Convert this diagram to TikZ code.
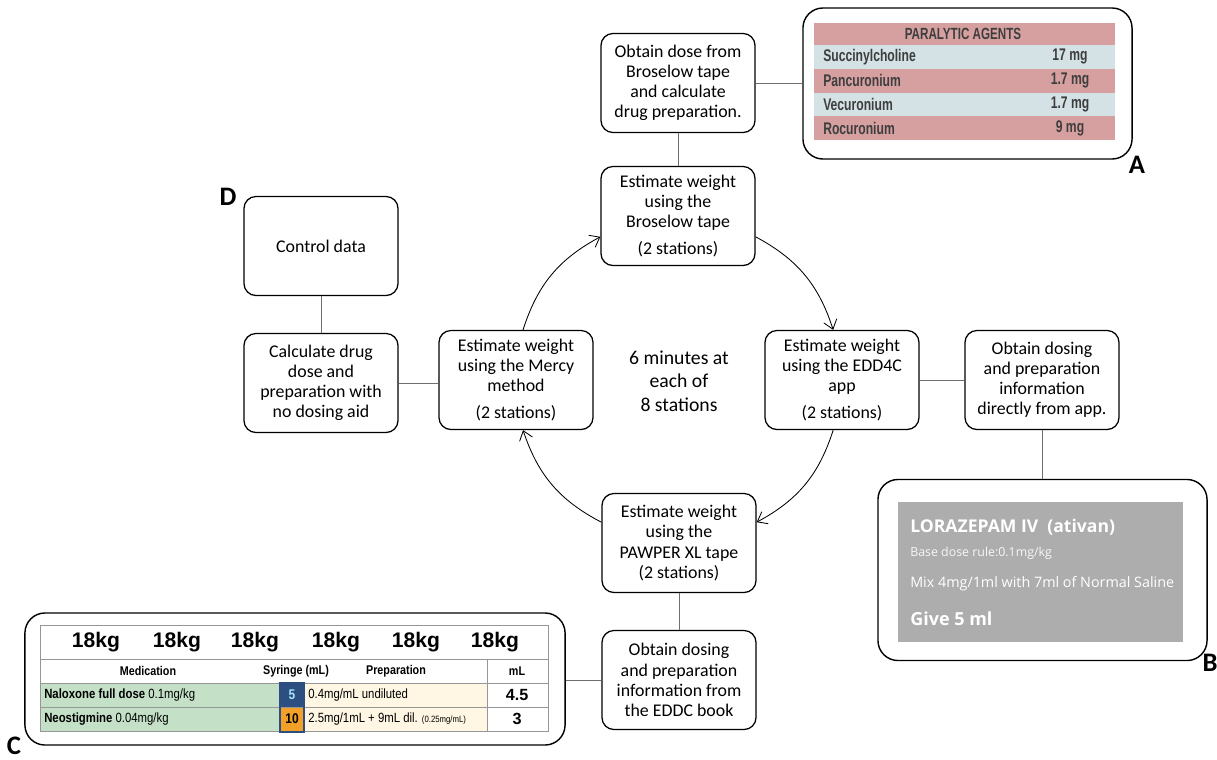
\documentclass[tikz,border=0pt]{standalone}
\usepackage{fontspec}
\setmainfont{Carlito}
\newfontfamily\tapefont[FakeStretch=0.72]{Liberation Sans}
\newfontfamily\bookfont[FakeStretch=0.85]{Liberation Sans}
\newfontfamily\plainsans{Liberation Sans}
\newfontfamily\appfont{Open Sans}
\usepackage{tikz}
\usetikzlibrary{arrows.meta}

\definecolor{tapepink}{RGB}{214,160,160}
\definecolor{tapeblue}{RGB}{212,226,229}
\definecolor{tapeink}{RGB}{62,62,62}
\definecolor{appgray}{RGB}{172,173,172}
\definecolor{bookgreen}{RGB}{196,225,200}
\definecolor{bookcream}{RGB}{255,247,228}
\definecolor{booknavy}{RGB}{45,78,128}
\definecolor{bookorange}{RGB}{242,160,40}
\definecolor{linkgray}{RGB}{110,110,110}
\definecolor{gridgray}{RGB}{150,150,150}

\newcommand\stationfont{\fontsize{12.7}{14.3}\selectfont}

\begin{document}
\begin{tikzpicture}[
  x=0.025cm, y=-0.025cm,
  station/.style={draw,rounded corners=3mm,line width=0.9pt,minimum width=3.85cm,
    minimum height=2.475cm,inner sep=1pt,align=center,font=\stationfont},
  panel/.style={draw,rounded corners=5mm,line width=1pt,inner sep=0pt},
  tieline/.style={draw=linkgray,line width=0.6pt},
  roundarrow/.style={-{Straight Barb[length=2.2mm,width=3.4mm]},line width=0.6pt,bend left=22},
  panellabel/.style={font=\bfseries\fontsize{19}{19}\selectfont,inner sep=0pt},
  tapetext/.style={text=tapeink,font=\tapefont\bfseries\fontsize{12}{13}\selectfont,inner sep=0pt},
  booktext/.style={font=\bookfont\fontsize{9.5}{11}\selectfont,inner sep=0pt},
  bookhead/.style={inner sep=0pt,font=\bookfont\bfseries\fontsize{9}{10}\selectfont},
  apptext/.style={text=white,anchor=west,inner sep=0pt}
]
  \useasboundingbox (0,0) rectangle (1217,759);

  % stations of the rotation
  \node[station] (obtainbro) at (678,83) {Obtain dose from\\Broselow tape\\and calculate\\drug preparation.};
  \node[station] (brose) at (678,216) {Estimate weight\\using the\\Broselow tape\\[5pt](2 stations)};
  \node[station] (control) at (321,246) {Control data};
  \node[station] (calc) at (321,383) {Calculate drug\\dose and\\preparation with\\no dosing aid};
  \node[station] (mercy) at (516,380) {Estimate weight\\using the Mercy\\method\\[5pt](2 stations)};
  \node[align=center,font=\fontsize{14}{16.7}\selectfont] (timing) at (679,381) {6 minutes at\\each of\\8 stations};
  \node[station] (edd) at (842,380) {Estimate weight\\using the EDD4C\\app\\[5pt](2 stations)};
  \node[station] (app) at (1042,380) {Obtain dosing\\and preparation\\information\\directly from app.};
  \node[station] (pawper) at (679,543) {Estimate weight\\using the\\PAWPER XL tape\\(2 stations)};
  \node[station] (book) at (679,680) {Obtain dosing\\and preparation\\information from\\the EDDC book};

  % framed panels
  \node[panel,minimum width=8.225cm,minimum height=3.775cm] (tape) at (967.5,83.5) {};
  \node[panel,minimum width=8.225cm,minimum height=4.525cm] (appshot) at (1042.5,570) {};
  \node[panel,minimum width=13.5cm,minimum height=3.3cm] (chart) at (295,679) {};

  \draw[tieline] (obtainbro) -- (brose);
  \draw[tieline] (obtainbro.east) -- (obtainbro.east -| tape.west);
  \draw[tieline] (control) -- (calc);
  \draw[tieline] (calc.east) -- (calc.east -| mercy.west);
  \draw[tieline] (edd.east) -- (edd.east -| app.west);
  \draw[tieline] (app.south) -- (app.south |- appshot.north);
  \draw[tieline] (pawper) -- (book);
  \draw[tieline] (book.west) -- (book.west -| chart.east);

  % the circuit
  \draw[roundarrow] (mercy.82) to (brose.195);
  \draw[roundarrow] (brose.345) to (edd.100);
  \draw[roundarrow] (edd.260) to (pawper.15);
  \draw[roundarrow] (pawper.165) to (mercy.278);

  % A: tape strip
  \fill[tapepink] (814,23) rectangle (1115,45);
  \node[tapetext,font=\tapefont\bfseries\fontsize{11.5}{12}\selectfont] (tapehead) at (963,34) {PARALYTIC AGENTS};
  \foreach \drug/\dose [count=\i] in {Succinylcholine/17 mg,Pancuronium/1.7 mg,Vecuronium/1.7 mg,Rocuronium/9 mg}{
    \pgfmathsetmacro\rowtop{45+(\i-1)*23.75}
    \ifodd\i \def\tapeshade{tapeblue}\else \def\tapeshade{tapepink}\fi
    \fill[\tapeshade] (814,\rowtop) rectangle (1115,\rowtop+23.75);
    \node[tapetext,anchor=west] (drug\i) at (823,\rowtop+11.9) {\drug};
    \node[tapetext] (dose\i) at (1070,\rowtop+11.9) {\dose};
  }

  % B: app screen
  \fill[appgray] (898,502) rectangle (1183,642);
  \node[apptext,font=\appfont\bfseries\fontsize{12.5}{14}\selectfont] (drugname) at (910,527) {LORAZEPAM IV\ \ (ativan)};
  \node[apptext,text=white!90!appgray,font=\appfont\fontsize{8.8}{10}\selectfont] (doserule) at (910,553) {Base dose rule:0.1mg/kg};
  \node[apptext,font=\appfont\fontsize{10.2}{12}\selectfont] (mixrule) at (910,584) {Mix 4mg/1ml with 7ml of Normal Saline};
  \node[apptext,font=\appfont\bfseries\fontsize{12.8}{14}\selectfont] (giverule) at (910,619) {Give 5 ml};

  % C: dosing book table
  \fill[bookgreen] (40,683) rectangle (280,732);
  \fill[booknavy] (280,683) rectangle (304,707);
  \fill[bookorange] (280,707) rectangle (304,732);
  \fill[bookcream] (304,683) rectangle (487,732);
  \draw[gridgray,line width=0.5pt] (40,732) |- (548,625) -- (548,732);
  \foreach \y in {659,683,707,731} \draw[gridgray,line width=0.5pt] (40,\y) -- (548,\y);
  \draw[gridgray,line width=0.5pt] (487,659) -- (487,732);
  \draw[booknavy,line width=0.8pt] (280,683) rectangle (304,732);
  \foreach \x [count=\k] in {96,177,255,336,416,495}
    \node[booktext,font=\plainsans\bfseries\fontsize{15}{17}\selectfont] (kg\k) at (\x,642) {18kg};
  \node[bookhead] (medhead) at (148,671) {Medication};
  \node[bookhead] (syrhead) at (296,671) {Syringe (mL)};
  \node[bookhead] (prephead) at (396,671) {Preparation};
  \node[bookhead] (mlhead) at (517,671) {mL};
  \node[booktext,anchor=west] (nalox) at (44,695) {\textbf{Naloxone full dose} 0.1mg/kg};
  \node[booktext,text=cyan!35,font=\bookfont\bfseries\fontsize{10}{12}\selectfont] (naloxsyr) at (292,695) {5};
  \node[booktext,anchor=west] (naloxprep) at (308,695) {0.4mg/mL undiluted};
  \node[booktext,font=\plainsans\bfseries\fontsize{11.5}{12}\selectfont] (naloxml) at (517,695) {4.5};
  \node[booktext,anchor=west] (neostig) at (44,719) {\textbf{Neostigmine} 0.04mg/kg};
  \node[booktext,font=\bookfont\bfseries\fontsize{10}{12}\selectfont] (neostigsyr) at (292,719) {10};
  \node[booktext,anchor=west] (neostigprep) at (308,719) {2.5mg/1mL + 9mL dil. {\fontsize{6.5}{8}\selectfont(0.25mg/mL)}};
  \node[booktext,font=\plainsans\bfseries\fontsize{11.5}{12}\selectfont] (neostigml) at (517,719) {3};

  \node[panellabel] (labA) at (1137,165) {A};
  \node[panellabel] (labB) at (1210,663) {B};
  \node[panellabel] (labC) at (14,746) {C};
  \node[panellabel] (labD) at (228,197) {D};
\end{tikzpicture}
\end{document}
